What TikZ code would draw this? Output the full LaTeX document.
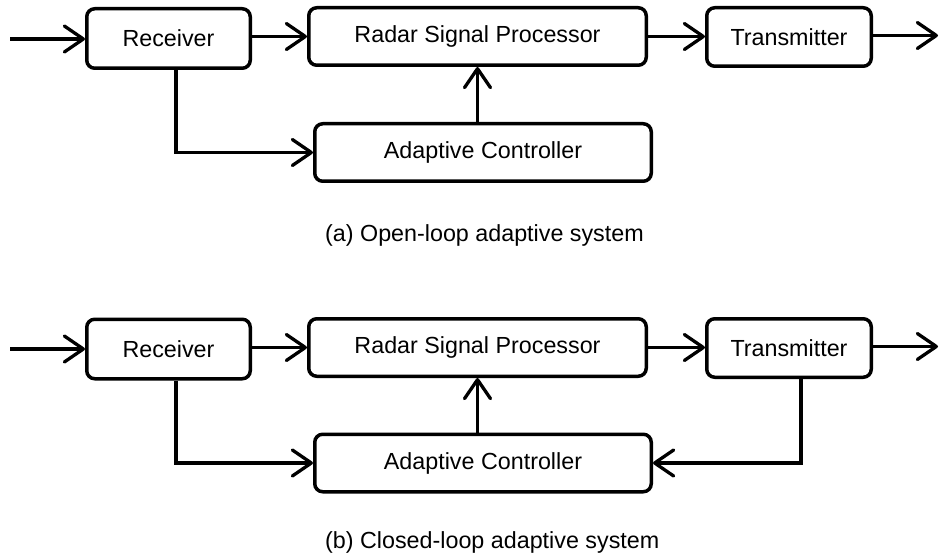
\documentclass[tikz,border=0pt]{standalone}
\usepackage{fontspec}
\setmainfont{Liberation Sans}
\usetikzlibrary{arrows.meta,calc}

\newcommand\labelfont{\fontsize{23.3}{28}\selectfont}

\tikzset{
  blk/.style={draw, line width=3.5pt, rounded corners=8pt, inner sep=0pt,
              font=\labelfont, fill=white},
  conn/.style={line width=3.3pt,
               -{Straight Barb[length=19pt,width=26pt,round]}},
  caption/.style={anchor=base west, inner sep=0pt, font=\labelfont},
}

\begin{document}
\begin{tikzpicture}[x=1pt,y=-1pt]
  \useasboundingbox (0,0) rectangle (940,556);

  % ---- (a) open loop ----
  \node[blk, minimum width=163.5pt, minimum height=59.5pt] (arec) at (168.5,38.5) {Receiver};
  \node[blk, minimum width=337.5pt, minimum height=57.5pt] (arsp) at (477.5,36.5) {Radar Signal Processor};
  \node[blk, minimum width=164.5pt, minimum height=58.5pt] (atx)  at (789,37) {Transmitter};
  \node[blk, minimum width=336.5pt, minimum height=57.5pt] (aac)  at (483,152.5) {Adaptive Controller};
  \coordinate (ain)  at (10,39);
  \coordinate (aout) at (938,35.5);

  \draw[conn] (ain) -- (arec.west |- ain);
  \draw[conn] (arec.east |- arsp.west) -- (arsp.west);
  \draw[conn] (arsp.east) -- (atx.west |- arsp.east);
  \draw[conn] (atx.east |- aout) -- (aout);
  \draw[conn] ($(arec.south)+(7.5,0)$) |- (aac.west);
  \draw[conn] (arsp.south |- aac.north) -- (arsp.south);

  \node[caption] (acap) at (325,242) {(a) Open-loop adaptive system};

  % ---- (b) closed loop ----
  \node[blk, minimum width=163.5pt, minimum height=59.5pt] (brec) at (168.5,349) {Receiver};
  \node[blk, minimum width=337.5pt, minimum height=57.5pt] (brsp) at (477.5,347.5) {Radar Signal Processor};
  \node[blk, minimum width=164.5pt, minimum height=58.5pt] (btx)  at (789,348) {Transmitter};
  \node[blk, minimum width=336.5pt, minimum height=57.5pt] (bac)  at (483,463) {Adaptive Controller};
  \coordinate (bin)  at (10,349);
  \coordinate (bout) at (938,346.5);

  \draw[conn] (bin) -- (brec.west |- bin);
  \draw[conn] (brec.east |- brsp.west) -- (brsp.west);
  \draw[conn] (brsp.east) -- (btx.west |- brsp.east);
  \draw[conn] (btx.east |- bout) -- (bout);
  \draw[conn] ($(brec.south)+(7.5,0)$) |- (bac.west);
  \draw[conn] (brsp.south |- bac.north) -- (brsp.south);
  \draw[conn] ($(btx.south)+(12,0)$) |- (bac.east);

  \node[caption] (bcap) at (325,548) {(b) Closed-loop adaptive system};
\end{tikzpicture}
\end{document}
